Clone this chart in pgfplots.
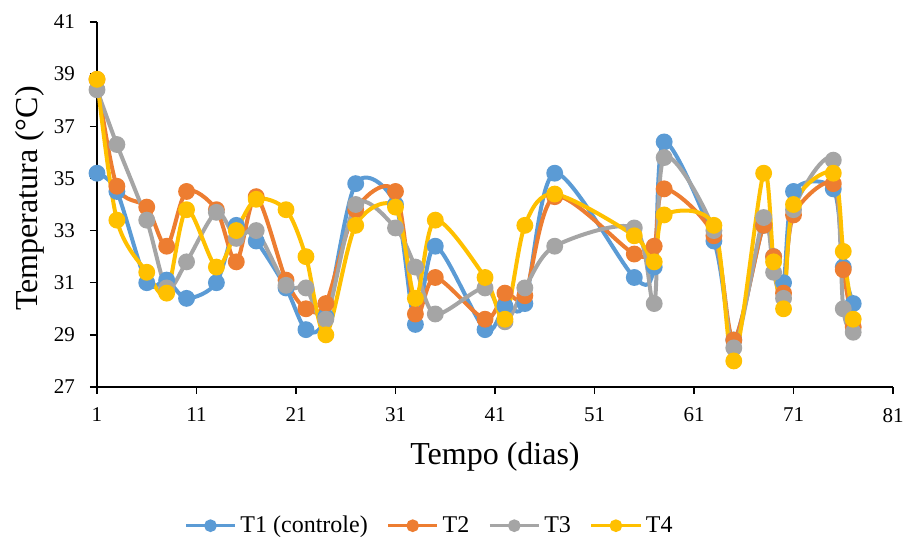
\documentclass[border=0pt]{standalone}
\usepackage{pgfplots}
\pgfplotsset{compat=1.18}
\usepackage{pgfplotstable}
\usepackage{fontspec}
\setmainfont{Liberation Serif}
\definecolor{azul}{HTML}{5B9BD5}
\definecolor{laranja}{HTML}{ED7D31}
\definecolor{cinza}{HTML}{A5A5A5}
\definecolor{ouro}{HTML}{FFC000}

\pgfplotstableread{
dia T1   T2   T3   T4
1   35.2 38.8 38.4 38.8
3   34.5 34.7 36.3 33.4
6   31.0 33.9 33.4 31.4
8   31.1 32.4 30.8 30.6
10  30.4 34.5 31.8 33.8
13  31.0 33.8 33.7 31.6
15  33.2 31.8 32.7 33.0
17  32.6 34.3 33.0 34.2
20  30.8 31.1 30.9 33.8
22  29.2 30.0 30.8 32.0
24  29.7 30.2 29.6 29.0
27  34.8 33.8 34.0 33.2
31  34.0 34.5 33.1 33.9
33  29.4 29.8 31.6 30.4
35  32.4 31.2 29.8 33.4
40  29.2 29.6 30.8 31.2
42  30.1 30.6 29.5 29.6
44  30.2 30.5 30.8 33.2
47  35.2 34.3 32.4 34.4
55  31.2 32.1 33.1 32.8
57  31.6 32.4 30.2 31.8
58  36.4 34.6 35.8 33.6
63  32.6 32.8 33.0 33.2
65  28.8 28.8 28.5 28.0
68  33.2 33.2 33.5 35.2
69  32.0 32.0 31.4 31.8
70  31.0 30.6 30.4 30.0
71  34.5 33.6 33.8 34.0
75  34.6 34.8 35.7 35.2
76  31.6 31.5 30.0 32.2
77  30.2 29.3 29.1 29.6
}\dados

\begin{document}
\begin{tikzpicture}
\begin{axis}[
  at={(0,0)}, anchor=south west,
  scale only axis,
  width=398pt, height=182.5pt,
  xmin=1, xmax=81, ymin=27, ymax=41,
  xtick={1,11,...,81}, ytick={27,29,...,41},
  axis x line*=bottom, axis y line*=left,
  axis line style={-, line width=0.75pt},
  tick align=outside, major tick length=3.5pt,
  tick style={black, line width=0.75pt},
  clip=false,
  xlabel={Tempo (dias)},
  ylabel={Temperatura (°C)},
  xlabel style={at={(axis description cs:0.5,-0.192)}, anchor=center},
  ylabel style={at={(axis description cs:-0.084,0.516)}, anchor=center},
  label style={font=\fontsize{16}{19}\selectfont},
  ticklabel style={font=\fontsize{10.5}{12}\selectfont},
  xticklabel style={yshift=-3.5pt},
  yticklabel style={xshift=-4pt},
  /pgf/number format/assume math mode=true,
  legend columns=4,
  legend style={at={(0.419,-0.38)}, anchor=center, draw=none,
    font=\fontsize{12}{14}\selectfont,
    /tikz/every even column/.append style={column sep=7.5pt}},
  legend image code/.code={\draw[mark repeat=2,mark phase=2,#1,
      line width=1.5pt, mark size=2.4pt]
    plot coordinates {(0cm,0cm) (0.43cm,0cm) (0.86cm,0cm)};},
  every axis plot/.append style={line width=2pt, smooth, tension=0.5,
    mark=*, mark size=3.2pt, mark options={solid}},
]
\addplot[color=azul] table[x=dia, y=T1] {\dados};
\addlegendentry{T1 (controle)}
\addplot[color=laranja] table[x=dia, y=T2] {\dados};
\addlegendentry{T2}
\addplot[color=cinza] table[x=dia, y=T3] {\dados};
\addlegendentry{T3}
\addplot[color=ouro] table[x=dia, y=T4] {\dados};
\addlegendentry{T4}
\end{axis}
\pgfresetboundingbox
\path[use as bounding box] (-48.5pt,-76pt) rectangle (403.5pt,193.5pt);
\end{tikzpicture}
\end{document}
